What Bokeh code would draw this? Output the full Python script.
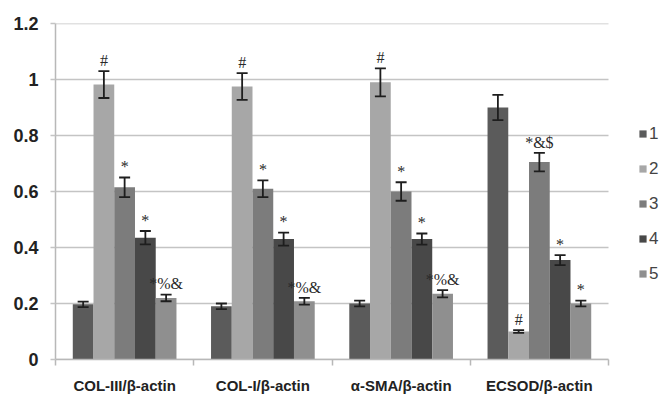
from bokeh.plotting import figure
from bokeh.models import (ColumnDataSource, Whisker, TeeHead, FixedTicker, Legend, LegendItem,
                          NumeralTickFormatter, Range1d)
from bokeh.embed import file_html
from bokeh.resources import INLINE
from bokeh.core.properties import value

categories = ["COL-III/β-actin", "COL-I/β-actin", "α-SMA/β-actin", "ECSOD/β-actin"]
series_names = ["1", "2", "3", "4", "5"]
values = [
    [0.197, 0.190, 0.200, 0.900],   # 1
    [0.982, 0.975, 0.990, 0.100],   # 2
    [0.615, 0.610, 0.600, 0.705],   # 3
    [0.435, 0.430, 0.430, 0.355],   # 4
    [0.220, 0.208, 0.235, 0.200],   # 5
]
errors = [
    [0.010, 0.010, 0.010, 0.045],
    [0.048, 0.048, 0.050, 0.005],
    [0.035, 0.030, 0.033, 0.033],
    [0.024, 0.023, 0.020, 0.018],
    [0.012, 0.012, 0.013, 0.010],
]
marks = [
    ["", "", "", ""],
    ["#", "#", "#", "#"],
    ["*", "*", "*", "*&$"],
    ["*", "*", "*", "*"],
    ["*%&", "*%&", "*%&", "*"],
]
y_ticks = [0, 0.2, 0.4, 0.6, 0.8, 1.0, 1.2]
colors = ["#5b5b5b", "#a7a7a7", "#7c7c7c", "#484848", "#8f8f8f"]

n_cat = len(categories)
n_ser = len(series_names)
bar_w = 0.15
offsets = [(j - (n_ser - 1) / 2) * bar_w for j in range(n_ser)]

W, H = 665, 396
left, top, bottom = 55, 23, 33
frame_w = W - left           # frame spans to the right edge (legend lives inside it)
data_w = 553                 # pixels used by the categories
x_end = n_cat * frame_w / data_w

p = figure(width=W, height=H, output_backend="svg", toolbar_location=None,
           x_range=Range1d(0, x_end), y_range=Range1d(0, 1.2),
           min_border_left=left, min_border_right=0, min_border_top=top,
           min_border_bottom=bottom)
p.outline_line_color = None
p.background_fill_color = "white"
p.border_fill_color = "white"

# grid (drawn only across the category area)
p.xgrid.grid_line_color = None
p.ygrid.grid_line_color = None
p.segment(x0=[0] * len(y_ticks), x1=[n_cat] * len(y_ticks), y0=y_ticks, y1=y_ticks,
          line_color="#c4c4c4", line_width=1.6)

# y axis
p.yaxis.ticker = FixedTicker(ticks=y_ticks)
p.yaxis.formatter = NumeralTickFormatter(format="0.[0]")
p.yaxis.axis_line_color = "#b8b8b8"
p.yaxis.axis_line_width = 1.5
p.yaxis.major_tick_line_color = "#c4c4c4"
p.yaxis.major_tick_line_width = 1.6
p.yaxis.major_tick_out = 5
p.yaxis.major_tick_in = 0
p.yaxis.minor_tick_line_color = None
p.yaxis.major_label_text_font = "Liberation Sans"
p.yaxis.major_label_text_font_style = "bold"
p.yaxis.major_label_text_font_size = "18px"
p.yaxis.major_label_text_color = "#222222"
p.yaxis.major_label_standoff = 12

# x axis: labels at centers, ticks at boundaries
centers = [i + 0.5 for i in range(n_cat)]
p.xaxis.bounds = (0, n_cat)
p.xaxis.ticker = FixedTicker(ticks=centers, minor_ticks=list(range(n_cat + 1)))
p.xaxis.major_label_overrides = {c: name for c, name in zip(centers, categories)}
p.xaxis.major_tick_line_color = None
p.xaxis.major_tick_out = 0
p.xaxis.major_tick_in = 0
p.xaxis.minor_tick_out = 6
p.xaxis.minor_tick_in = 0
p.xaxis.minor_tick_line_color = "#b8b8b8"
p.xaxis.minor_tick_line_width = 1.5
p.xaxis.axis_line_color = "#b8b8b8"
p.xaxis.axis_line_width = 1.5
p.xaxis.major_label_text_font = "Liberation Sans"
p.xaxis.major_label_text_font_style = "bold"
p.xaxis.major_label_text_font_size = "15px"
p.xaxis.major_label_text_color = "#222222"
p.xaxis.major_label_standoff = 11

items = []
for j in range(n_ser):
    xs = [i + 0.5 + offsets[j] for i in range(n_cat)]
    tops = values[j]
    lo = [v - e for v, e in zip(values[j], errors[j])]
    hi = [v + e for v, e in zip(values[j], errors[j])]
    src = ColumnDataSource(dict(x=xs, top=tops, lo=lo, hi=hi,
                                ty=[h + 0.008 for h in hi], lab=marks[j]))
    r = p.vbar(x="x", top="top", width=bar_w, bottom=0, source=src,
               fill_color=colors[j], line_color=None)
    items.append(LegendItem(label=series_names[j], renderers=[r]))
    w = Whisker(base="x", lower="lo", upper="hi", source=src, dimension="height",
                line_color="#1e1e1e", line_width=1.8, level="annotation",
                upper_head=TeeHead(size=11, line_color="#1e1e1e", line_width=1.8),
                lower_head=TeeHead(size=11, line_color="#1e1e1e", line_width=1.8))
    p.add_layout(w)
    p.text(x="x", y="ty", text="lab", source=src, text_align="center",
           text_baseline="bottom", text_font=value("Liberation Serif"),
           text_font_size="16px", text_color="#2a2a2a")

legend = Legend(items=items, location=(583, 75), orientation="vertical",
                padding=0, margin=0, spacing=14, glyph_width=9, glyph_height=9,
                label_height=21, label_standoff=2,
                label_text_font="Liberation Sans", label_text_font_size="17px",
                label_text_color="#444444",
                border_line_color=None, background_fill_alpha=0)
p.add_layout(legend, "center")

open("out.html", "w").write(file_html(p, INLINE))
